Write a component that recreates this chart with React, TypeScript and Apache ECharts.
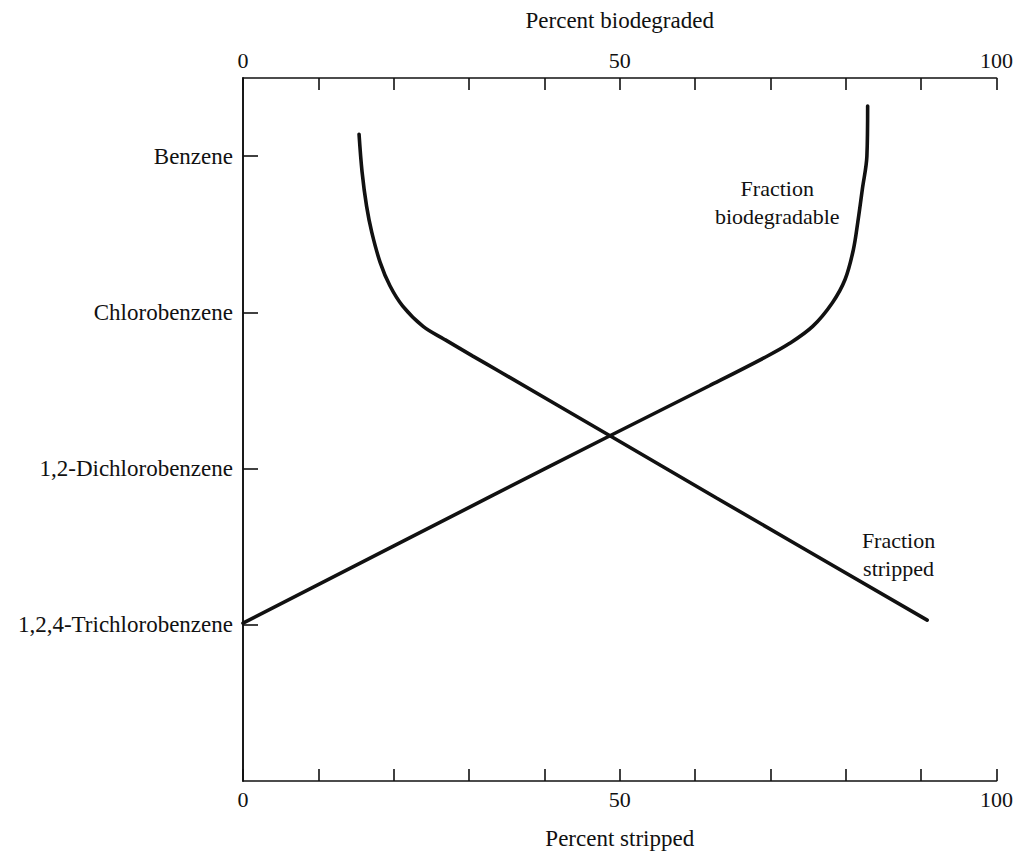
import React, { useEffect, useRef } from "react";
import * as echarts from "echarts";

const compounds = ["Benzene", "Chlorobenzene", "1,2-Dichlorobenzene", "1,2,4-Trichlorobenzene"];
const compoundLevels = [1, 2, 3, 4];
const percentTickLabels = [0, 50, 100];

const strippedPercent = [15.4, 15.8, 16.4, 17.1, 18.2, 19.5, 21.2, 23.9, 26.8, 30.5, 34.1, 48.7, 62.9, 90.8];
const strippedLevel = [0.86, 1.1, 1.32, 1.49, 1.68, 1.83, 1.96, 2.09, 2.175, 2.28, 2.38, 2.79, 3.19, 3.97];

const biodegradedPercent = [82.9, 82.8, 82.2, 81.6, 81.0, 79.9, 78.2, 75.6, 72.5, 69.2, 61.9, 48.7, 32.8, 0];
const biodegradedLevel = [0.68, 1.0, 1.21, 1.42, 1.6, 1.79, 1.94, 2.09, 2.2, 2.29, 2.47, 2.79, 3.18, 3.99];

const FONT = "'Liberation Serif', 'DejaVu Serif', serif";
const INK = "#111";

export default function App() {
  const ref = useRef<HTMLDivElement>(null);
  useEffect(() => {
    if (!ref.current) return;
    const chart = echarts.init(ref.current, null, { renderer: "svg" });
    const pctLabel = (v: number) => (percentTickLabels.includes(v) ? String(v) : "");
    const xCommon = {
      type: "value",
      min: 0,
      max: 100,
      interval: 10,
      nameLocation: "middle",
      nameTextStyle: { fontFamily: FONT, fontSize: 23, color: INK },
      axisLine: { show: true, lineStyle: { color: INK, width: 1.6 } },
      axisTick: { show: true, inside: true, length: 12, lineStyle: { color: INK, width: 1.6 } },
      axisLabel: { formatter: pctLabel, fontFamily: FONT, fontSize: 22, color: INK, margin: 7, showMinLabel: true, showMaxLabel: true },
      splitLine: { show: false },
    };
    const yCommon = {
      type: "value",
      min: 0.5,
      max: 5,
      interval: 0.5,
      inverse: true,
      splitLine: { show: false },
      axisLine: { show: true, lineStyle: { color: INK, width: 1.6 } },
    };
    const curveLabel = {
      show: true,
      position: "inside",
      fontFamily: FONT,
      fontSize: 22,
      lineHeight: 28,
      color: INK,
      align: "center",
    };
    chart.setOption({
      animation: false,
      backgroundColor: "#fff",
      grid: { left: 243, top: 78, width: 754, height: 708, containLabel: false },
      xAxis: [
        { ...xCommon, position: "bottom", name: "Percent stripped", nameGap: 46 },
        { ...xCommon, position: "top", name: "Percent biodegraded", nameGap: 46 },
      ],
      yAxis: [
        {
          ...yCommon,
          position: "left",
          axisTick: { show: true, inside: true, length: 15, customValues: compoundLevels, lineStyle: { color: INK, width: 1.6 } },
          axisLabel: {
            customValues: compoundLevels,
            formatter: (v: number) => compounds[compoundLevels.indexOf(v)] ?? "",
            fontFamily: FONT,
            fontSize: 23,
            color: INK,
            margin: 10,
          },
        },
        {
          ...yCommon,
          position: "right",
          axisTick: { show: false },
          axisLabel: { show: false },
        },
      ],
      series: [
        {
          name: "Fraction stripped",
          type: "line",
          xAxisIndex: 0,
          yAxisIndex: 0,
          data: strippedPercent.map((p, i) => [p, strippedLevel[i]]),
          smooth: 0.35,
          showSymbol: false,
          symbol: "none",
          lineStyle: { color: INK, width: 3.6, cap: "round" },
          markPoint: {
            symbol: "circle",
            symbolSize: 0,
            data: [{ coord: [87.0, 3.55] }],
            label: { ...curveLabel, formatter: "Fraction\nstripped" },
          },
        },
        {
          name: "Fraction biodegradable",
          type: "line",
          xAxisIndex: 1,
          yAxisIndex: 0,
          data: biodegradedPercent.map((p, i) => [p, biodegradedLevel[i]]),
          smooth: 0.35,
          showSymbol: false,
          symbol: "none",
          lineStyle: { color: INK, width: 3.6, cap: "round" },
          markPoint: {
            symbol: "circle",
            symbolSize: 0,
            data: [{ coord: [70.9, 1.3] }],
            label: { ...curveLabel, formatter: "Fraction\nbiodegradable" },
          },
        },
      ],
    });
    return () => chart.dispose();
  }, []);
  return (
    <div
      ref={ref}
      style={{ position: "absolute", left: 0, top: 0, width: 1016, height: 855, background: "#fff" }}
    />
  );
}
